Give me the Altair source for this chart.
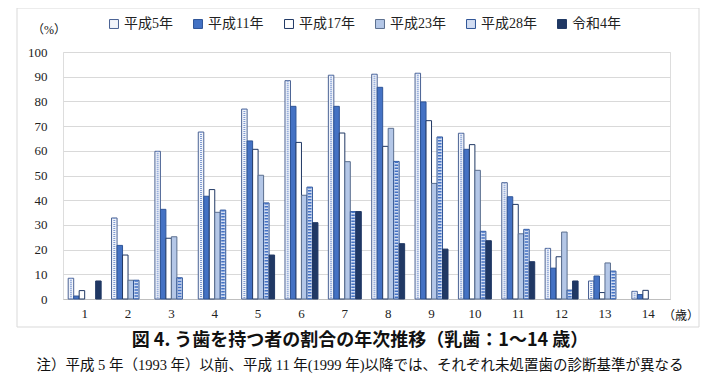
import altair as alt
import pandas as pd

ages = [str(a) for a in range(1, 15)]
series = ["平成5年", "平成11年", "平成17年", "平成23年", "平成28年", "令和4年"]
h5 = [8.4, 32.8, 59.8, 67.6, 76.9, 88.4, 90.6, 91.0, 91.4, 67.1, 47.1, 20.5, 7.3, 3.1]
h11 = [1.2, 21.7, 36.3, 41.6, 64.0, 78.0, 78.0, 85.7, 79.8, 60.6, 41.4, 12.5, 9.3, 1.8]
h17 = [3.4, 17.8, 24.6, 44.3, 60.6, 63.4, 67.2, 61.8, 72.2, 62.5, 38.3, 17.1, 2.6, 3.5]
h23 = [0, 7.6, 25.2, 35.1, 50.1, 42.0, 55.6, 69.1, 46.8, 52.1, 26.4, 27.1, 14.6, 0]
h28 = [0, 7.6, 8.6, 36.0, 38.9, 45.3, 35.4, 55.7, 65.6, 27.4, 28.2, 3.6, 11.3, 0]
r4 = [7.3, 0, 0, 0, 17.8, 30.9, 35.4, 22.4, 20.2, 23.6, 15.1, 7.3, 0, 0]

fills = ["#F2F5FB", "#4472C4", "#FFFFFF", "#B4C7E7", "#D2DDF2", "#203864"]
strokes = ["#4A6294", "#2F5597", "#203864", "#5B6F8F", "#2F5597", "#203864"]

rows = []
for s, vals in zip(series, [h5, h11, h17, h23, h28, r4]):
    for a, v in zip(ages, vals):
        rows.append({"age": a, "series": s, "value": v})
df = pd.DataFrame(rows)

SERIF = "Liberation Serif, Noto Sans CJK JP"
JP = "Noto Sans CJK JP"

x_enc = alt.X("age:O", sort=ages, title=None,
              scale=alt.Scale(paddingInner=0.24, paddingOuter=0.12),
              axis=alt.Axis(labelAngle=0, ticks=False, grid=False, domainColor="#BFBFBF",
                            labelFont=SERIF, labelFontSize=13, labelColor="#222",
                            labelPadding=8))
xo_enc = alt.XOffset("series:N", sort=series, scale=alt.Scale(paddingInner=0, paddingOuter=0))
y_enc = alt.Y("value:Q", title=None, scale=alt.Scale(domain=[0, 100]),
              axis=alt.Axis(values=list(range(0, 101, 10)), ticks=False, domain=False,
                            gridColor="#D9D9D9", labelFont=SERIF, labelFontSize=13,
                            labelColor="#222", labelPadding=16))

bars = alt.Chart(df).transform_filter("datum.value > 0").mark_bar(strokeWidth=1).encode(
    x=x_enc, xOffset=xo_enc, y=y_enc,
    color=alt.Color("series:N", sort=series,
                    scale=alt.Scale(domain=series, range=fills),
                    legend=alt.Legend(title=None, orient="none", direction="horizontal",
                                      legendX=44, legendY=-35, symbolType="square",
                                      symbolSize=80, symbolStrokeColor="#203864",
                                      symbolStrokeWidth=1, labelFont=SERIF,
                                      labelFontSize=14, labelColor="#222",
                                      columnPadding=18, symbolOffset=0, labelOffset=3)),
    stroke=alt.Stroke("series:N", sort=series,
                      scale=alt.Scale(domain=series, range=strokes), legend=None),
)

# texture overlays for the patterned series
dots5 = alt.Chart(df).transform_filter(
    "datum.series == '平成5年' && datum.value > 1"
).mark_rule(strokeWidth=2, strokeDash=[1, 1], color="#7F9BD3").encode(
    x=x_enc, xOffset=xo_enc, y=y_enc, y2=alt.datum(0)
)
hatch28 = alt.Chart(df).transform_filter(
    "datum.series == '平成28年' && datum.value > 1"
).mark_rule(strokeWidth=3.5, strokeDash=[1.5, 1.5], color="#4472C4").encode(
    x=x_enc, xOffset=xo_enc, y=y_enc, y2=alt.datum(0)
)

def txt(t, x, y, size, font, weight="normal", align="center"):
    return alt.Chart(pd.DataFrame({"t": [t]})).mark_text(
        fontSize=size, font=font, fontWeight=weight, align=align, baseline="middle",
        color="#111", clip=False
    ).encode(text="t:N", x=alt.value(x), y=alt.value(y))

frame = alt.Chart(pd.DataFrame({"a": [0]})).mark_rect(
    fillOpacity=0, stroke="#D9D9D9", strokeWidth=1
).encode(x=alt.value(-46), x2=alt.value(636), y=alt.value(-44), y2=alt.value(275))

chart = alt.layer(
    frame,
    bars,
    dots5,
    hatch28,
    txt("（%）", -14, -22, 12, SERIF),
    txt("（歳）", 618, 264, 12, SERIF),
    txt("図 4.  う歯を持つ者の割合の年次推移（乳歯：1～14 歳）", 297, 289, 18, JP, "bold"),
    txt("注）平成 5 年（1993 年）以前、平成 11 年(1999 年)以降では、それぞれ未処置歯の診断基準が異なる",
        297, 314, 14.5, SERIF),
).properties(
    width=607, height=247,
    autosize=alt.AutoSizeParams(type="none"),
    padding={"left": 55, "top": 44, "right": 43, "bottom": 78},
).configure_view(stroke=None).configure(background="white")

chart.save("out.html", embed_options={"renderer": "svg", "actions": False})
